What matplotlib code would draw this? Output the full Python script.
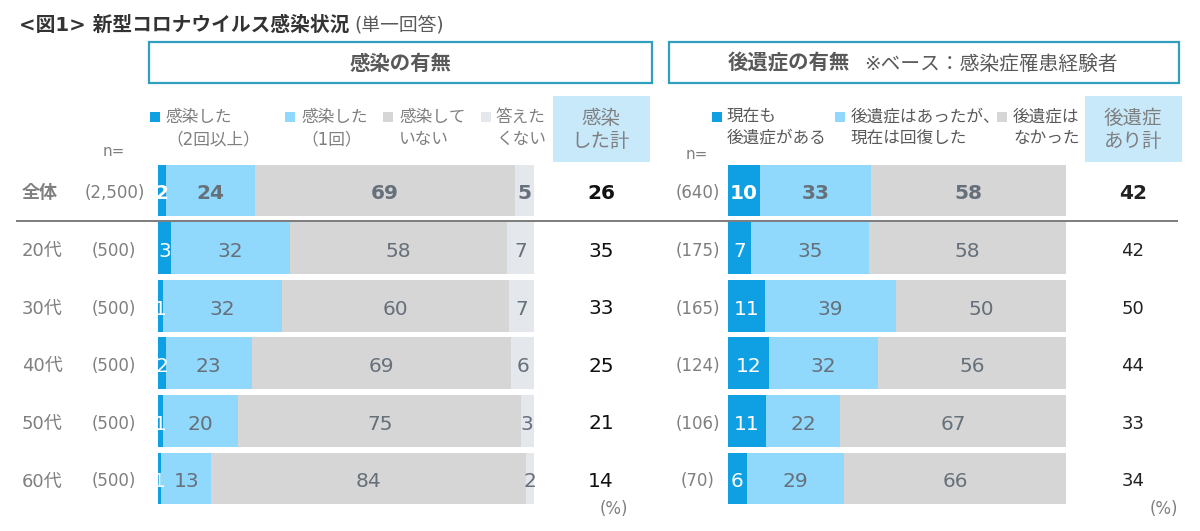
import matplotlib
matplotlib.use('Agg')
import matplotlib.pyplot as plt
from matplotlib.patches import Rectangle

# DejaVu first: its digits are closer to the wide latin of the original
plt.rcParams['font.family'] = ['DejaVu Sans', 'Noto Sans CJK JP']

# Data
groups = ['全体', '20代', '30代', '40代', '50代', '60代']
left_n = ['(2,500)', '(500)', '(500)', '(500)', '(500)', '(500)']
right_n = ['(640)', '(175)', '(165)', '(124)', '(106)', '(70)']

inf_twice = [2.0, 3.4, 1.4, 2.0, 1.4, 0.9]
inf_once = [23.7, 31.6, 31.6, 23.0, 20.0, 13.2]
inf_none = [69.3, 57.8, 60.4, 68.9, 75.1, 83.8]
inf_noans = [5.0, 7.2, 6.6, 6.1, 3.4, 2.1]
inf_total = [26, 35, 33, 25, 21, 14]

sym_now = [9.6, 6.9, 11.0, 12.2, 11.4, 5.7]
sym_recovered = [32.6, 34.9, 38.7, 32.2, 21.8, 28.6]
sym_none = [57.8, 58.2, 50.3, 55.6, 66.8, 65.7]
sym_total = [42, 42, 50, 44, 33, 34]

BLUE = '#0f9fe3'
LIGHT = '#91d9fc'
GRAY = '#d6d6d6'
PALE = '#e4e7ec'
BOX = '#2f9fbd'
TOTAL_BG = '#c8e9fa'
TXT = '#7f7f7f'
BAR_TXT = '#66707a'

W, H = 1200, 531
fig = plt.figure(figsize=(12, 5.31), dpi=100, facecolor='white')


def txt(x, y, s, size=12, color=TXT, ha='left', va='center', **kw):
    return fig.text(x / W, 1 - y / H, s, fontsize=size, color=color, ha=ha, va=va, **kw)


def rect(x, y, w, h, **kw):
    fig.add_artist(Rectangle((x / W, 1 - (y + h) / H), w / W, h / H,
                             transform=fig.transFigure, **kw))


def bar_axes(x0, x1):
    ax = fig.add_axes([x0 / W, 1 - 507.3 / H, (x1 - x0) / W, (507.3 - 161.7) / H])
    ax.set_xlim(0, 100)
    ax.set_ylim(5.5, -0.5)
    ax.axis('off')
    return ax


def draw_stack(ax, series, colors, label_colors):
    left = [0] * len(groups)
    for vals, col, lcol in zip(series, colors, label_colors):
        ax.barh(range(len(groups)), vals, left=left, height=0.9, color=col)
        for i, v in enumerate(vals):
            ax.text(left[i] + v / 2, i + 0.06, f'{v:.0f}', color=lcol, ha='center', va='center',
                    fontsize=14.5, fontweight='bold' if i == 0 else 'normal',
                    clip_on=False, zorder=5)
        left = [a + b for a, b in zip(left, vals)]


ax_l = bar_axes(158, 534)
draw_stack(ax_l, [inf_twice, inf_once, inf_none, inf_noans],
           [BLUE, LIGHT, GRAY, PALE], ['white', BAR_TXT, BAR_TXT, BAR_TXT])
ax_r = bar_axes(727.8, 1066.3)
draw_stack(ax_r, [sym_now, sym_recovered, sym_none],
           [BLUE, LIGHT, GRAY], ['white', BAR_TXT, BAR_TXT])

# Title
txt(19, 25, '<図1> 新型コロナウイルス感染状況', size=14.2, color='#333333', fontweight='bold')
txt(354, 25, '(単一回答)', size=13.5, color='#595959')

# Header boxes
rect(148.5, 42.5, 503, 40, fill=False, edgecolor=BOX, linewidth=1.6)
rect(669, 42.5, 510, 40, fill=False, edgecolor=BOX, linewidth=1.6)
txt(400, 64, '感染の有無', size=14.7, color='#595959', ha='center', fontweight='bold')
txt(728, 64, '後遺症の有無', size=14.7, color='#595959', fontweight='bold')
txt(864, 64, '※ベース：感染症罹患経験者', size=14.2, color='#595959')

# Total column headers
rect(553, 96, 97, 66, color=TOTAL_BG, linewidth=0)
rect(1085, 96, 97, 66, color=TOTAL_BG, linewidth=0)
txt(601, 130, '感染\nした計', size=14, ha='center', linespacing=1.25)
txt(1133, 130, '後遺症\nあり計', size=14, ha='center', linespacing=1.25)

# Legends
rect(150, 112, 10, 10, color=BLUE, linewidth=0)
txt(166, 128, '感染した\n（2回以上）', linespacing=1.3)
rect(285, 112, 10, 10, color=LIGHT, linewidth=0)
txt(301, 128, '感染した\n（1回）', linespacing=1.3)
rect(383, 112, 10, 10, color=GRAY, linewidth=0)
txt(399, 128, '感染して\nいない', linespacing=1.3)
rect(481, 112, 10, 10, color=PALE, linewidth=0)
txt(496, 128, '答えた\nくない', linespacing=1.3)

rect(712, 112, 10, 10, color=BLUE, linewidth=0)
txt(727, 127, '現在も\n後遺症がある', color='#595959', linespacing=1.25)
rect(835, 112, 10, 10, color=LIGHT, linewidth=0)
txt(851, 127, '後遺症はあったが、\n現在は回復した', color='#595959', linespacing=1.25)
rect(997, 112, 10, 10, color=GRAY, linewidth=0)
txt(1013, 127, '後遺症は\nなかった', color='#595959', linespacing=1.25)

txt(114, 152, 'n=', size=11, ha='center')
txt(697, 155, 'n=', size=11, ha='center')

# Row labels and totals
for i, g in enumerate(groups):
    y = 190.5 + 57.6 * i
    weight = 'bold' if i == 0 else 'normal'
    txt(22, y + 3, g, size=13, fontweight=weight)
    txt(136 if i else 145, y + 3, left_n[i], size=12, ha='right')
    txt(720 if i < 5 else 715, y + 3, right_n[i], size=12, ha='right')
    txt(601, y + 3, str(inf_total[i]), size=14.5, color='#111111', ha='center', fontweight=weight)
    txt(1133, y + 3, str(sym_total[i]), size=14.5 if i == 0 else 13, color='#222222',
        ha='center', fontweight=weight)

# Separator under the total row
rect(16, 220, 1162, 2, color='#7f7f7f', linewidth=0, zorder=6)

txt(614, 509, '(%)', size=12, ha='center')
txt(1164, 509, '(%)', size=12, ha='center')

fig.savefig('out.png', dpi=100, facecolor='white')
